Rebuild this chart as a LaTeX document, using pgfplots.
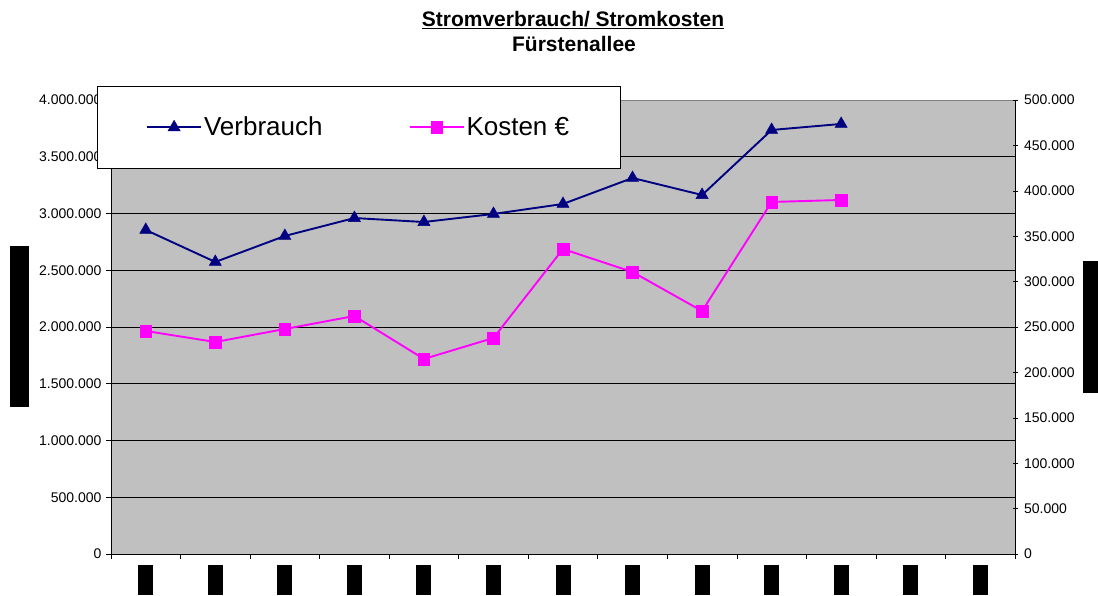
\documentclass[border=0pt]{standalone}
\usepackage{pgfplots}
\pgfplotsset{compat=1.18}
\usepackage{fontspec}
\setmainfont{Liberation Sans}
\definecolor{plotbg}{HTML}{C0C0C0}
\definecolor{verb}{HTML}{000080}
\definecolor{kost}{HTML}{FF00FF}
\newcommand\blk{\rule{15pt}{30pt}}
\begin{document}
\begin{tikzpicture}
\pgfplotsset{
 common/.style={scale only axis, width=904pt, height=454pt, at={(0pt,0pt)}, anchor=south west,
  xmin=0.5, xmax=13.5, ymin=0,
  /pgf/number format/.cd, fixed, precision=0, 1000 sep={.}, assume math mode=true, /pgfplots/.cd,
  tick label style={font=\fontsize{14}{16}\selectfont},
  major tick length=5pt, tick style={black, line width=0.6pt}, scaled y ticks=false},
 verbstyle/.style={color=verb, line width=1.9pt, mark=triangle*, mark size=7pt, mark options={fill=verb, solid, line width=0.5pt}},
 koststyle/.style={color=kost, line width=1.9pt, mark=square*, mark size=5.8pt, mark options={fill=kost, solid, line width=0.5pt}},
}
\begin{axis}[common, ymax=4000000,
 ytick={0,500000,1000000,1500000,2000000,2500000,3000000,3500000,4000000},
 ytick pos=left, tick align=outside, ymajorgrids, grid style={black, line width=0.6pt},
 yticklabel style={xshift=-1pt},
 axis background/.style={fill=plotbg}, axis line style={black, line width=0.8pt},
 xtick={0.5,1.5,...,13.5}, xticklabels={}, xtick pos=bottom,
 extra x ticks={1,2,3,4,5,6,7,8,9,10,11,12,13},
 extra x tick labels={\blk,\blk,\blk,\blk,\blk,\blk,\blk,\blk,\blk,\blk,\blk,\blk,\blk},
 extra x tick style={major tick length=0pt, xticklabel style={anchor=north, inner sep=0pt, yshift=-11pt}},
]
\addplot[verbstyle] coordinates {
 (1,2855000) (2,2573000) (3,2802000) (4,2960000) (5,2925000) (6,2996000)
 (7,3084000) (8,3313000) (9,3163000) (10,3736000) (11,3789000)};
\draw[color={rgb,255:red,128;green,128;blue,128}, line width=0.8pt] (rel axis cs:0,1) -- (rel axis cs:1,1);
\end{axis}
\begin{axis}[common, ymax=500000,
 ytick={0,50000,100000,150000,200000,250000,300000,350000,400000,450000,500000},
 axis y line*=right, axis x line=none, tick align=center, axis line style={black, line width=0.8pt},
 yticklabel style={xshift=3pt},
 legend columns=2, legend cell align=left,
 legend image code/.code={\draw[mark repeat=2,mark phase=2,#1,line width=1.9pt] plot coordinates {(0pt,0pt)(27pt,0pt)(54pt,0pt)};},
 legend style={at={(-0.0155,1.031)}, anchor=north west, draw=black, fill=white,
   font=\fontsize{26}{30}\selectfont, inner xsep=49pt, inner ysep=29pt,
   /tikz/every even column/.append style={column sep=84pt}},
]
\addlegendimage{verbstyle}
\addlegendentry{Verbrauch}
\addplot[koststyle] coordinates {
 (1,245600) (2,233500) (3,247800) (4,262100) (5,214800) (6,237900)
 (7,335900) (8,310600) (9,267600) (10,387700) (11,389900)};
\addlegendentry{Kosten €}
\end{axis}
\node at (462pt,534pt) {\fontsize{21}{24}\selectfont\bfseries\underline{Stromverbrauch/ Stromkosten}};
\node at (463pt,510pt) {\fontsize{21}{24}\selectfont\bfseries Fürstenallee};
\fill[black] (-101pt,147pt) rectangle (-82pt,308pt);
\fill[black] (972pt,161pt) rectangle (987pt,293pt);
\pgfresetboundingbox
\useasboundingbox (-111pt,-41pt) rectangle (987pt,554pt);
\end{tikzpicture}
\end{document}
